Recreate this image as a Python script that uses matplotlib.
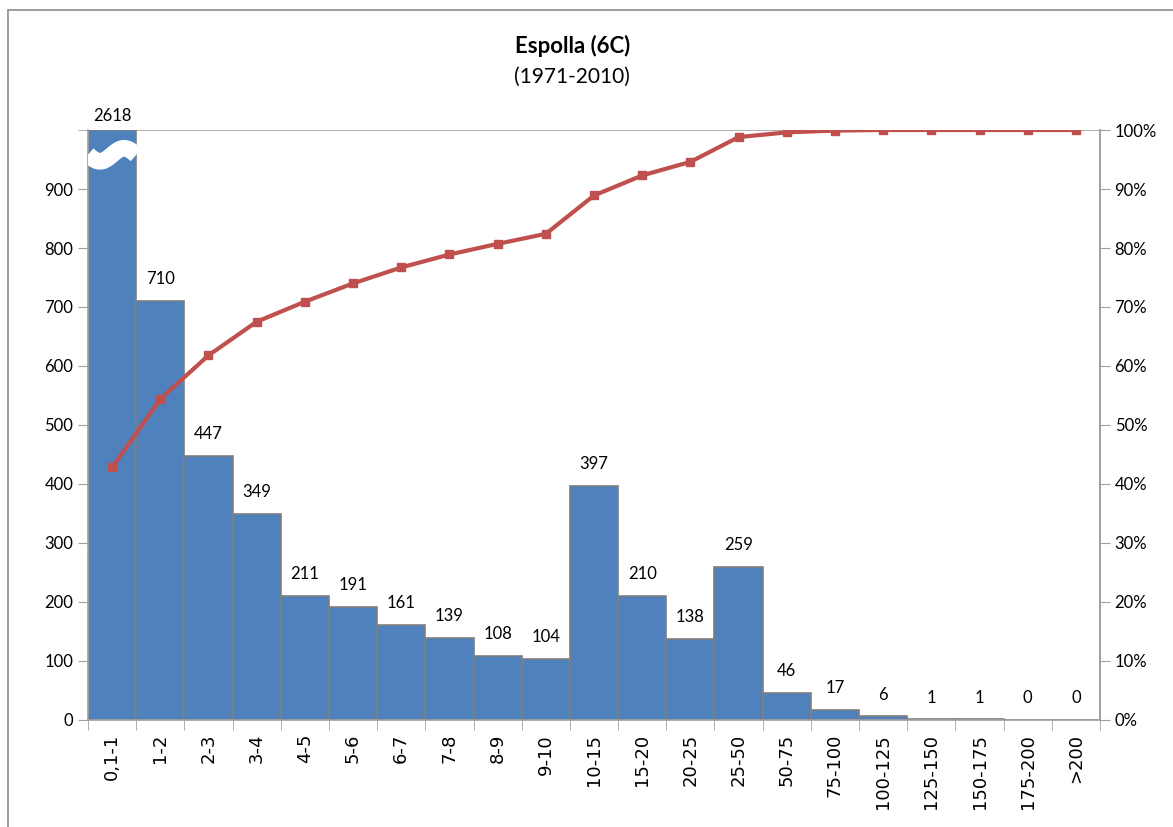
import numpy as np
import matplotlib.pyplot as plt
from matplotlib.patches import Rectangle

plt.rcParams['font.family'] = ['Lato', 'DejaVu Sans']

categories = ['0,1-1', '1-2', '2-3', '3-4', '4-5', '5-6', '6-7', '7-8', '8-9', '9-10',
              '10-15', '15-20', '20-25', '25-50', '50-75', '75-100', '100-125',
              '125-150', '150-175', '175-200', '>200']
counts = [2618, 710, 447, 349, 211, 191, 161, 139, 108, 104,
          397, 210, 138, 259, 46, 17, 6, 1, 1, 0, 0]
cum_pct = [42.8, 54.4, 61.8, 67.5, 70.9, 74.0, 76.7, 78.9, 80.7, 82.4,
           88.9, 92.3, 94.6, 98.8, 99.6, 99.9, 100, 100, 100, 100, 100]

BLUE = '#4F81BD'
RED = '#C0504D'
GRID = '#A0A0A0'
YMAX = 1000

fig = plt.figure(figsize=(11.73, 8.27), dpi=100)
ax = fig.add_axes([0.075, 0.1294, 0.8628, 0.7134])

x = np.arange(len(categories))
shown = np.minimum(counts, YMAX)
ax.bar(x, shown, width=1.0, color=BLUE, edgecolor='#7F7F7F', linewidth=1.2, zorder=2)

ax.set_xlim(-0.5, len(categories) - 0.5)
ax.set_ylim(0, YMAX)
ax.set_yticks(np.arange(0, 1000, 100))
ax.set_yticks(np.arange(0, 1001, 100), minor=True)
ax.yaxis.grid(True, which='minor', color=GRID, linewidth=1.2, zorder=0)
ax.tick_params(axis='y', which='both', length=7, color=GRID, labelsize=12, direction='out')

ax.set_xticks(x)
ax.set_xticklabels(categories, rotation=90, fontsize=13, family='DejaVu Sans')
ax.set_xticks(np.arange(-0.5, len(categories)), minor=True)
ax.tick_params(axis='x', which='major', length=0, pad=10)
ax.tick_params(axis='x', which='minor', length=7, color=GRID)

for s in ['left', 'bottom', 'right']:
    ax.spines[s].set_color(GRID)
    ax.spines[s].set_linewidth(1.2)
ax.spines['top'].set_visible(False)

# break marker on the clipped first bar
u = np.linspace(0, 1, 60)
t = u - 0.5
wave = YMAX * 0.958 - 11 * np.sin(2 * np.pi * u)
ax.plot(t, wave, color='white', linewidth=12, zorder=3, solid_capstyle='butt')

# data labels
for xi, c, s in zip(x, counts, shown):
    if c > YMAX:
        ax.annotate(str(c), (xi, YMAX), xytext=(0, 4), textcoords='offset points',
                    ha='center', va='bottom', fontsize=12, annotation_clip=False)
    else:
        ax.annotate(str(c), (xi, s), xytext=(0, 10), textcoords='offset points',
                    ha='center', va='bottom', fontsize=12, zorder=4,
                    bbox=dict(boxstyle='square,pad=0.35', fc='white', ec='none'))

ax2 = ax.twinx()
ax2.plot(x, cum_pct, color=RED, linewidth=3, marker='s', markersize=6, zorder=5)
ax2.set_ylim(0, 100)
ax2.set_yticks(np.arange(0, 101, 10))
ax2.set_yticklabels([f'{v}%' for v in range(0, 101, 10)])
ax2.tick_params(axis='y', length=7, color=GRID, labelsize=12)
for s in ['left', 'bottom', 'top']:
    ax2.spines[s].set_visible(False)
ax2.spines['right'].set_color(GRID)
ax2.spines['right'].set_linewidth(1.2)

fig.text(0.488, 0.945, 'Espolla (6C)', ha='center', va='center', fontsize=16, fontweight='bold')
fig.text(0.488, 0.907, '(1971-2010)', ha='center', va='center', fontsize=15)

fig.patches.append(Rectangle((8 / 1173, -0.1), 1.2, 1.1 - 10 / 827, transform=fig.transFigure,
                             fill=False, edgecolor='#8C8C8C', linewidth=1.2))

fig.savefig('out.png', dpi=100)
